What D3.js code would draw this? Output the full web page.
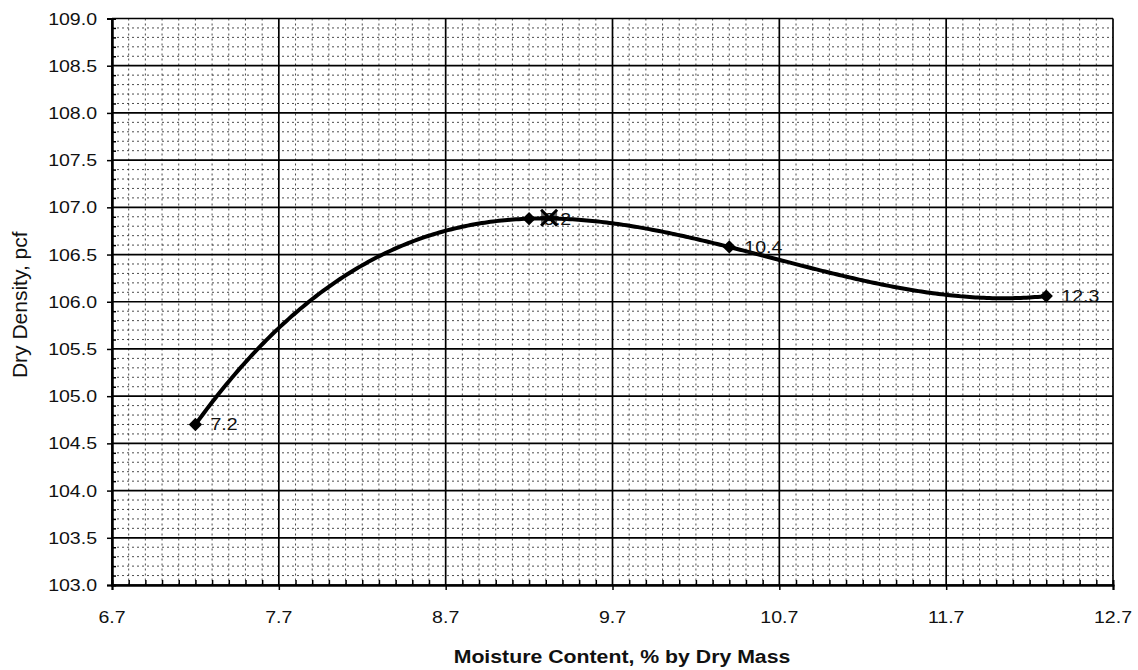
<!DOCTYPE html>
<html><head><meta charset="utf-8">
<script src="https://cdn.jsdelivr.net/npm/d3@7"></script>
<style>body{margin:0;background:#fff;} svg{display:block;}</style>
</head><body>
<svg id="c" width="1138" height="670"></svg>
<script>
const moisture = [7.2, 9.2, 10.4, 12.3];
const density = [104.7, 106.88, 106.58, 106.06];
const pointLabels = ["7.2", "9.2", "10.4", "12.3"];
const optimumMoisture = [9.32];
const optimumDensity = [106.89];
const xTicks = [6.7, 7.7, 8.7, 9.7, 10.7, 11.7, 12.7];
const yTicks = [103.0, 103.5, 104.0, 104.5, 105.0, 105.5, 106.0, 106.5, 107.0, 107.5, 108.0, 108.5, 109.0];
const xTitle = "Moisture Content, % by Dry Mass";
const yTitle = "Dry Density, pcf";

const svg = d3.select("#c");
const L = 112, R = 1113, T = 18.5, B = 585;
const x = d3.scaleLinear().domain([6.7, 12.7]).range([L, R]);
const y = d3.scaleLinear().domain([103, 109]).range([B, T]);
const font = "'Liberation Sans', Arial, sans-serif";
const SX = 1.15;

function txt(g, px, py, s, size, anchor, weight) {
  return g.append("text")
    .attr("transform", `translate(${px},${py}) scale(${SX},1)`)
    .attr("text-anchor", anchor).attr("font-family", font)
    .attr("font-size", size).attr("font-weight", weight || "normal")
    .attr("fill", "#111").text(s);
}

// minor grid (every 0.1)
const minorX = d3.range(67, 128).map(v => v / 10).filter(v => !xTicks.some(t => Math.abs(t - v) < 0.01));
const minorY = d3.range(1030, 1091).map(v => v / 10).filter(v => !yTicks.some(t => Math.abs(t - v) < 0.01));
const grid = svg.append("g");
grid.selectAll(".mx").data(minorX).join("line")
  .attr("x1", d => x(d)).attr("x2", d => x(d)).attr("y1", T).attr("y2", B)
  .attr("stroke", "#222").attr("stroke-width", 1).attr("stroke-dasharray", "2,3").attr("opacity", 0.8);
grid.selectAll(".my").data(minorY).join("line")
  .attr("x1", L).attr("x2", R).attr("y1", d => y(d)).attr("y2", d => y(d))
  .attr("stroke", "#222").attr("stroke-width", 1).attr("stroke-dasharray", "2,3").attr("opacity", 0.8);
// major grid
grid.selectAll(".Mx").data(xTicks).join("line")
  .attr("x1", d => x(d)).attr("x2", d => x(d)).attr("y1", T).attr("y2", B)
  .attr("stroke", "#000").attr("stroke-width", 1.7);
grid.selectAll(".My").data(yTicks).join("line")
  .attr("x1", L).attr("x2", R).attr("y1", d => y(d)).attr("y2", d => y(d))
  .attr("stroke", "#000").attr("stroke-width", 1.7);

// axes
const gx = svg.append("g").attr("transform", `translate(0,${B})`)
  .call(d3.axisBottom(x).tickValues(xTicks).tickSize(5).tickFormat(""));
const gxm = svg.append("g").attr("transform", `translate(0,${B})`)
  .call(d3.axisTop(x).tickValues(minorX).tickSize(5).tickFormat(""));
const gy = svg.append("g").attr("transform", `translate(${L},0)`)
  .call(d3.axisLeft(y).tickValues(yTicks).tickSize(5).tickFormat(""));
const gym = svg.append("g").attr("transform", `translate(${L},0)`)
  .call(d3.axisRight(y).tickValues(minorY).tickSize(4).tickFormat(""));
[gx, gxm, gy, gym].forEach(g => {
  g.selectAll("line").attr("stroke", "#000").attr("stroke-width", 1.5);
  g.select(".domain").attr("stroke", "#000").attr("stroke-width", 2);
});

// tick labels
const lab = svg.append("g");
xTicks.forEach(v => txt(lab, x(v), 623, v.toFixed(1), 17, "middle"));
yTicks.forEach(v => txt(lab, 97, y(v) + 6, v.toFixed(1), 17, "end"));

// titles
txt(svg, 622, 663, xTitle, 18.5, "middle", "bold");
svg.append("text").attr("transform", `translate(27,${(T + B) / 2 + 3}) rotate(-90)`)
  .attr("text-anchor", "middle").attr("font-family", font).attr("font-size", 21)
  .attr("fill", "#111").text(yTitle);

// 3rd-order polynomial trendline (exact cubic through the 4 points, Lagrange form)
function poly(v) {
  let s = 0;
  for (let i = 0; i < moisture.length; i++) {
    let t = density[i];
    for (let j = 0; j < moisture.length; j++) if (j !== i) t *= (v - moisture[j]) / (moisture[i] - moisture[j]);
    s += t;
  }
  return s;
}
const xs = d3.range(0, 301).map(k => moisture[0] + (moisture[moisture.length - 1] - moisture[0]) * k / 300);
svg.append("path").attr("d", d3.line().x(d => x(d)).y(d => y(poly(d)))(xs))
  .attr("fill", "none").attr("stroke", "#000").attr("stroke-width", 4).attr("stroke-linejoin", "round");

// markers
svg.selectAll(".pt").data(moisture).join("path")
  .attr("transform", (d, i) => `translate(${x(d)},${y(density[i])}) rotate(45)`)
  .attr("d", d3.symbol(d3.symbolSquare, 88)()).attr("fill", "#000");

// labels
moisture.forEach((m, i) => txt(svg, x(m) + 15, y(density[i]) + 6, pointLabels[i], 17, "start"));

// optimum X marker
optimumMoisture.forEach((m, i) => {
  const cx = x(m), cy = y(optimumDensity[i]);
  const g = svg.append("g").attr("transform", `translate(${cx},${cy})`);
  g.append("path").attr("d", "M-8,-8L8,8M-8,8L8,-8M-9,0L9,0")
    .attr("stroke", "#000").attr("stroke-width", 3).attr("fill", "none");
  g.append("path").attr("d", "M-8,-7L0,0L-8,7ZM8,-7L0,0L8,7Z").attr("fill", "#000").attr("opacity", 0.6);
});
</script>
</body></html>
